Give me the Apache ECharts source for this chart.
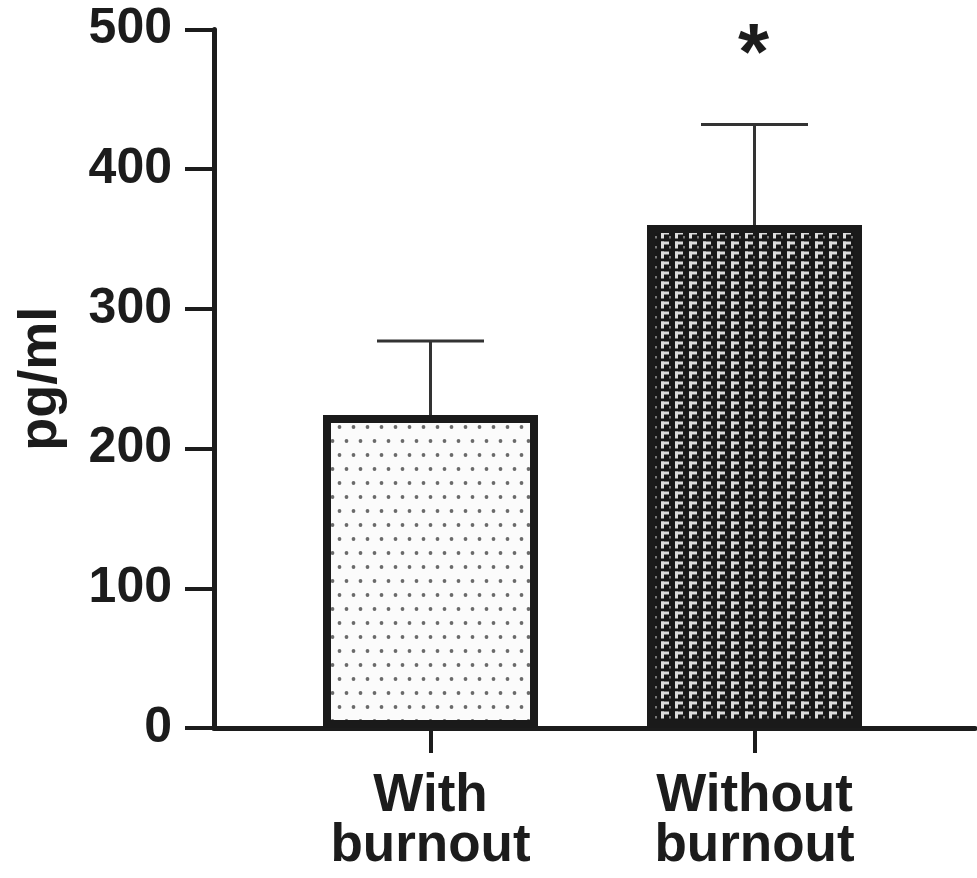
<!DOCTYPE html>
<html>
<head>
<meta charset="utf-8">
<script src="https://cdn.jsdelivr.net/npm/echarts@6/dist/echarts.min.js"></script>
<style>
html,body{margin:0;padding:0;background:#fff;}
#chart{width:977px;height:878px;}
</style>
</head>
<body>
<div id="chart"></div>
<script>
// ---- data ----
const categories = ['With\nburnout', 'Without\nburnout'];
const means = [224, 360];
const errors = [53, 72];
const significance = ['', '*'];
const yMin = 0, yMax = 500, yInterval = 100;
const yName = 'pg/ml';

// ---- patterns ----
function dotPattern() {
  const c = document.createElement('canvas');
  c.width = 14; c.height = 28;
  const ctx = c.getContext('2d');
  ctx.fillStyle = '#fbfbfb'; ctx.fillRect(0, 0, 14, 28);
  ctx.fillStyle = '#6a6a6a';
  [[3.5, 7], [10.5, 21]].forEach(p => { ctx.beginPath(); ctx.arc(p[0], p[1], 1.9, 0, Math.PI * 2); ctx.fill(); });
  return c;
}
function weavePattern() {
  const c = document.createElement('canvas');
  c.width = 14; c.height = 10;
  const ctx = c.getContext('2d');
  ctx.fillStyle = '#181818'; ctx.fillRect(0, 0, 14, 10);
  ctx.fillStyle = '#dcdcdc';
  ctx.fillRect(3, 1.5, 8, 3);
  ctx.fillRect(3, 1.5, 3, 7);
  ctx.fillStyle = '#777';
  ctx.fillRect(11, 6, 2, 2.5);
  return c;
}
const patterns = [dotPattern(), weavePattern()];

const FONT = '"Liberation Sans", Arial, sans-serif';
const INK = '#1c1c1c';
const gridTop = 29.5, gridBottom = 150;

const chart = echarts.init(document.getElementById('chart'), null, { renderer: 'canvas' });
chart.setOption({
  animation: false,
  backgroundColor: '#fff',
  grid: [
    { left: 214, right: 2, top: gridTop, bottom: gridBottom },
    { left: 268.5, width: 648, top: gridTop, bottom: gridBottom }
  ],
  xAxis: [
    { gridIndex: 0, type: 'value', min: 0, max: 1,
      axisLine: { show: true, onZero: false, lineStyle: { color: INK, width: 5 } },
      axisTick: { show: false }, axisLabel: { show: false }, splitLine: { show: false } },
    { gridIndex: 1, type: 'category', data: categories,
      axisLine: { show: false },
      axisTick: { show: true, alignWithLabel: true, length: 25, lineStyle: { color: INK, width: 4 } },
      axisLabel: { color: INK, fontFamily: FONT, fontWeight: 'bold', fontSize: 53, lineHeight: 50, margin: 43 },
      splitLine: { show: false } }
  ],
  yAxis: [
    { gridIndex: 0, type: 'value', min: yMin, max: yMax, interval: yInterval,
      name: yName, nameLocation: 'middle', nameRotate: 90, nameGap: 146,
      nameTextStyle: { color: INK, fontFamily: FONT, fontWeight: 'bold', fontSize: 54 },
      axisLine: { show: true, lineStyle: { color: INK, width: 5 } },
      axisTick: { show: true, length: 29, lineStyle: { color: INK, width: 4 } },
      axisLabel: { color: INK, fontFamily: FONT, fontWeight: 'bold', fontSize: 50, margin: 42 },
      splitLine: { show: false } },
    { gridIndex: 1, type: 'value', min: yMin, max: yMax, interval: yInterval, show: false }
  ],
  series: [
    {
      type: 'custom', xAxisIndex: 1, yAxisIndex: 1, z: 1,
      data: categories.map((c, i) => [i, means[i], means[i] + errors[i]]),
      renderItem: function (params, api) {
        const i = api.value(0);
        const base = api.coord([i, api.value(1)]);
        const tp = api.coord([i, api.value(2)]);
        const children = [
          { type: 'line', shape: { x1: base[0], y1: base[1], x2: tp[0], y2: tp[1] }, style: { stroke: '#333', lineWidth: 3 } },
          { type: 'line', shape: { x1: tp[0] - 53.5, y1: tp[1], x2: tp[0] + 53.5, y2: tp[1] }, style: { stroke: '#333', lineWidth: 3 } }
        ];
        return { type: 'group', children: children };
      }
    },
    {
      type: 'custom', xAxisIndex: 1, yAxisIndex: 1, z: 3,
      data: categories.map((c, i) => [i, means[i] + errors[i]]),
      renderItem: function (params, api) {
        const i = api.value(0);
        const s = significance[i];
        if (!s) return { type: 'group', children: [] };
        const tp = api.coord([i, api.value(1)]);
        return { type: 'text', style: { text: s, x: tp[0] - 1, y: tp[1] - 68, align: 'center', verticalAlign: 'middle',
          font: 'bold 80px ' + FONT, fill: INK } };
      }
    },
    {
      type: 'bar', xAxisIndex: 1, yAxisIndex: 1, z: 2, barWidth: 215,
      data: means.map((v, i) => ({ value: v, itemStyle: { color: { image: patterns[i], repeat: 'repeat' } } })),
      itemStyle: { borderColor: '#1a1a1a', borderWidth: 8 }
    }
  ]
});
</script>
</body>
</html>
